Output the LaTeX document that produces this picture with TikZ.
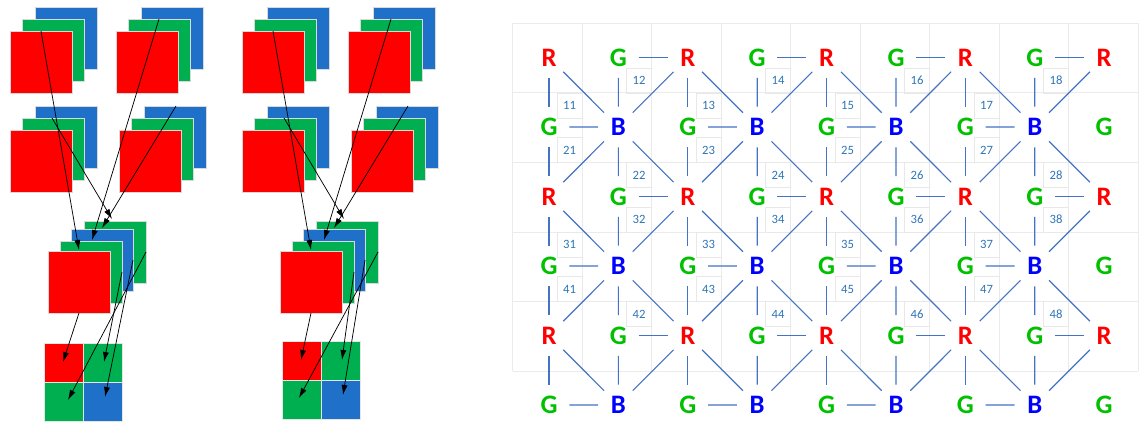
\documentclass[tikz,border=0pt]{standalone}
\usepackage{fontspec}
\setmainfont{Carlito}
\usetikzlibrary{arrows.meta,calc,positioning}
\definecolor{sqred}{RGB}{255,0,0}
\definecolor{sqgreen}{RGB}{0,176,80}
\definecolor{sqblue}{RGB}{31,112,200}
\definecolor{letgreen}{RGB}{0,192,0}
\definecolor{linkblue}{RGB}{68,114,196}
\definecolor{numblue}{RGB}{46,117,182}

\begin{document}
\begin{tikzpicture}[x=0.75pt,y=-0.75pt]
   \tikzstyle{sq}=[rectangle,minimum size=46.5pt,inner sep=0pt,outer sep=0pt,draw=black!15,line width=0.4pt,anchor=north west]
   \tikzstyle{px}=[rectangle,minimum size=29.25pt,inner sep=0pt,outer sep=0pt,draw=black!10,line width=0.4pt,anchor=north west]
   \tikzstyle{ar}=[-{Latex[length=7.5pt,width=4.5pt]},line width=0.55pt]
   \tikzstyle{chan}=[circle,minimum size=30pt,inner sep=0pt,font=\fontsize{20}{24}\selectfont\bfseries]
   \tikzstyle{letR}=[text=sqred]
   \tikzstyle{letG}=[text=letgreen]
   \tikzstyle{letB}=[text=blue]
   \tikzstyle{link}=[linkblue,line width=0.85pt]
   \tikzstyle{cell}=[black!8,line width=0.6pt]
   \tikzstyle{num}=[rectangle,minimum size=18.75pt,inner sep=0pt,draw=black!9,line width=0.5pt,text=numblue,font=\fontsize{9.5}{11}\selectfont]

   \useasboundingbox (0,0) rectangle (1145,424);

   % left: two demosaic sketches
   \foreach \g/\sx/\bx/\by/\ex in {a/0/44/343/24,b/232/50/341/17}{
      \begin{scope}[shift={(\sx,0)}]
         \foreach \s/\rx/\ry in {tl/10/31,tr/116/31,bl/10/130,br/119/130}{
            \node (\s-b-\g) [sq,fill=sqblue] at (\rx+25,\ry-24) {};
            \node (\s-g-\g) [sq,fill=sqgreen] at (\rx+12,\ry-12) {};
            \node (\s-r-\g) [sq,fill=sqred] at (\rx,\ry) {};
         }
         \node (m-g2-\g) [sq,fill=sqgreen] at (84,221) {};
         \node (m-b-\g) [sq,fill=sqblue] at (71,229) {};
         \node (m-g1-\g) [sq,fill=sqgreen] at (60,241) {};
         \node (m-r-\g) [sq,fill=sqred] at (48,251) {};
         \node (y-r-\g) [px,fill=sqred] at (\bx,\by) {};
         \node (y-g1-\g) [px,fill=sqgreen,right=0pt of y-r-\g] {};
         \node (y-g2-\g) [px,fill=sqgreen,below=0pt of y-r-\g] {};
         \node (y-b-\g) [px,fill=sqblue,right=0pt of y-g2-\g] {};
         \draw [ar] ($(tl-r-\g.north west)+(31,0)$) -- ($(m-r-\g.north west)+(31,-1)$);
         \draw [ar] ($(tr-g-\g.north west)+(31,0)$) -- ($(m-g1-\g.north west)+(32,-1)$);
         \draw [ar] ($(bl-g-\g.north west)+(30,0)$) -- ($(m-g2-\g.north west)+(28,-2)$);
         \draw [ar] ($(br-b-\g.north west)+(32,0)$) -- ($(m-b-\g.north west)+(31,-1)$);
         \draw [ar] ($(m-r-\g.south west)+(31,0)$) -- ($(y-r-\g.north west)+(19,19)$);
         \draw [ar] ($(m-g1-\g.north east)+(0,31)$) -- ($(y-g1-\g.north west)+(21,19)$);
         \draw [ar] ($(m-b-\g.north east)+(0,31)$) -- ($(y-b-\g.north west)+(22,15)$);
         \draw [ar] ($(m-g2-\g.north east)+(0,31)$) -- ($(y-g2-\g.north west)+(\ex,18)$);
      \end{scope}
   }

   % right: bayer grid
   \foreach \i in {0,...,9} \draw [cell] ({512.5+69.5*\i},23.3) -- ({512.5+69.5*\i},371.3);
   \foreach \j in {0,...,5} \draw [cell] (512.5,{23.3+69.6*\j}) -- (1138,{23.3+69.6*\j});
   \foreach \r in {1,...,4}{
      \foreach \k in {1,...,8}{
         \pgfmathsetmacro\ly{23.3+69.6*\r+ifthenelse(mod(\r+\k,2)==0,12.5,-12.5)}
         \node (n\r\k) [num] at ({500+69.5*\k},\ly) {\r\k};
      }
   }
   \foreach \i in {0,...,8}{
      \foreach \j in {0,...,5}{
         \ifodd\i\relax
            \ifodd\j\relax \def\c{B}\else \def\c{G}\fi
         \else
            \ifodd\j\relax \def\c{G}\else \def\c{R}\fi
         \fi
         \node (p-\i-\j) [chan,let\c] at ({549+69.4*\i},{57.5+69.5*\j}) {\c};
      }
   }
   \foreach \i in {1,3,5,7}{
      \foreach \j in {1,3,5}{
         \pgfmathtruncatemacro\im{\i-1}
         \pgfmathtruncatemacro\ip{\i+1}
         \pgfmathtruncatemacro\jm{\j-1}
         \pgfmathtruncatemacro\jp{\j+1}
         \draw [link] (p-\i-\j) -- (p-\im-\jm) (p-\i-\j) -- (p-\i-\jm) (p-\i-\j) -- (p-\ip-\jm) (p-\i-\j) -- (p-\im-\j);
         \ifnum\j<5 \draw [link] (p-\i-\j) -- (p-\im-\jp) (p-\i-\j) -- (p-\i-\jp) (p-\i-\j) -- (p-\ip-\jp); \fi
         \draw [link] (p-\i-\jm) -- (p-\ip-\jm);
         \draw [link] (p-\im-\jm) -- (p-\im-\j);
         \ifnum\j<5 \draw [link] (p-\im-\j) -- (p-\im-\jp); \fi
      }
   }
\end{tikzpicture}
\end{document}
